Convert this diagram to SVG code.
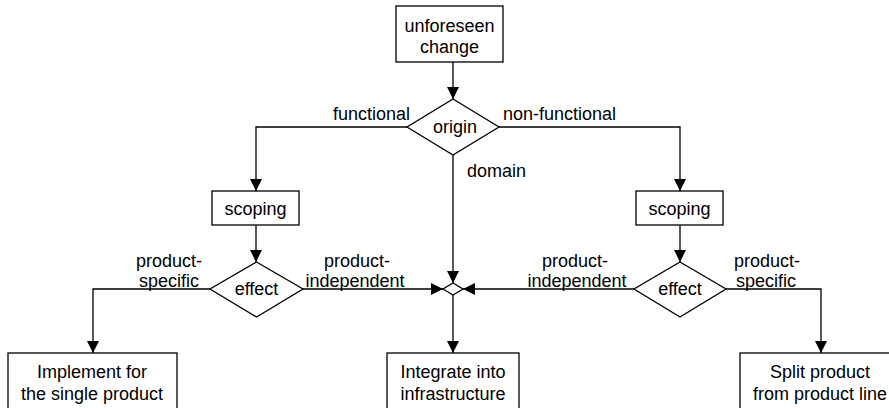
<svg xmlns="http://www.w3.org/2000/svg" width="889" height="408" viewBox="0 0 889 408">
<style>
.box{fill:#fff;stroke:#000;stroke-width:1.3}
.t{font-family:"Liberation Sans",Arial,sans-serif;font-size:18px;fill:#000}
.m{text-anchor:middle}
.e{text-anchor:end}
.ln{fill:none;stroke:#000;stroke-width:1.3}
</style>
<defs>
<marker id="ah" markerUnits="userSpaceOnUse" markerWidth="12" markerHeight="12" refX="12" refY="6" orient="auto">
<path d="M0,0 L12,6 L0,12 z" fill="#000"/>
</marker>
</defs>
<rect width="889" height="408" fill="#fff"/>
<g id="connectors">
<path class="ln" d="M453,62 V99" marker-end="url(#ah)"/>
<path class="ln" d="M407,127 H256 V191" marker-end="url(#ah)"/>
<path class="ln" d="M499,127 H680 V191" marker-end="url(#ah)"/>
<path class="ln" d="M453,155 V283" marker-end="url(#ah)"/>
<path class="ln" d="M256,225 V262" marker-end="url(#ah)"/>
<path class="ln" d="M680,225 V262" marker-end="url(#ah)"/>
<path class="ln" d="M210,289 H93 V353" marker-end="url(#ah)"/>
<path class="ln" d="M303,289 H443" marker-end="url(#ah)"/>
<path class="ln" d="M634,289 H463" marker-end="url(#ah)"/>
<path class="ln" d="M726,289 H821 V353" marker-end="url(#ah)"/>
<path class="ln" d="M453,295 V353" marker-end="url(#ah)"/>
</g>
<g id="start">
<rect class="box" x="396" y="6" width="107" height="56"/>
<text class="t m" x="449.5" y="32">unforeseen</text>
<text class="t m" x="449.5" y="53">change</text>
</g>
<g id="origin">
<polygon class="box" points="453,99 499,127 453,155 407,127"/>
<text class="t m" x="455" y="133">origin</text>
</g>
<g id="scoping-left">
<rect class="box" x="212" y="191" width="87" height="34"/>
<text class="t m" x="255.5" y="215">scoping</text>
</g>
<g id="scoping-right">
<rect class="box" x="636" y="191" width="87" height="34"/>
<text class="t m" x="679.5" y="215">scoping</text>
</g>
<g id="effect-left">
<polygon class="box" points="256.5,262 303,289 256.5,317 210,289"/>
<text class="t m" x="256.5" y="295">effect</text>
</g>
<g id="effect-right">
<polygon class="box" points="680,262 726,289 680,317 634,289"/>
<text class="t m" x="680" y="295">effect</text>
</g>
<g id="merge">
<polygon class="box" points="453,283 463,289 453,295 443,289"/>
</g>
<g id="implement">
<rect class="box" x="8" y="353" width="169" height="70"/>
<text class="t m" x="92" y="378">Implement for</text>
<text class="t m" x="92" y="400">the single product</text>
</g>
<g id="integrate">
<rect class="box" x="387" y="353" width="132" height="70"/>
<text class="t m" x="453" y="378">Integrate into</text>
<text class="t m" x="453" y="400">infrastructure</text>
</g>
<g id="split">
<rect class="box" x="740" y="353" width="170" height="70"/>
<text class="t m" x="820" y="378">Split product</text>
<text class="t m" x="820" y="400">from product line</text>
</g>
<g id="labels">
<text class="t e" x="410" y="120">functional</text>
<text class="t" x="503" y="120">non-functional</text>
<text class="t" x="467" y="177">domain</text>
<text class="t m" x="169" y="267">product-</text>
<text class="t m" x="169" y="287">specific</text>
<text class="t m" x="357" y="267">product-</text>
<text class="t m" x="355" y="287">independent</text>
<text class="t m" x="575" y="267">product-</text>
<text class="t m" x="577" y="287">independent</text>
<text class="t m" x="767" y="267">product-</text>
<text class="t m" x="766" y="287">specific</text>
</g>
</svg>
